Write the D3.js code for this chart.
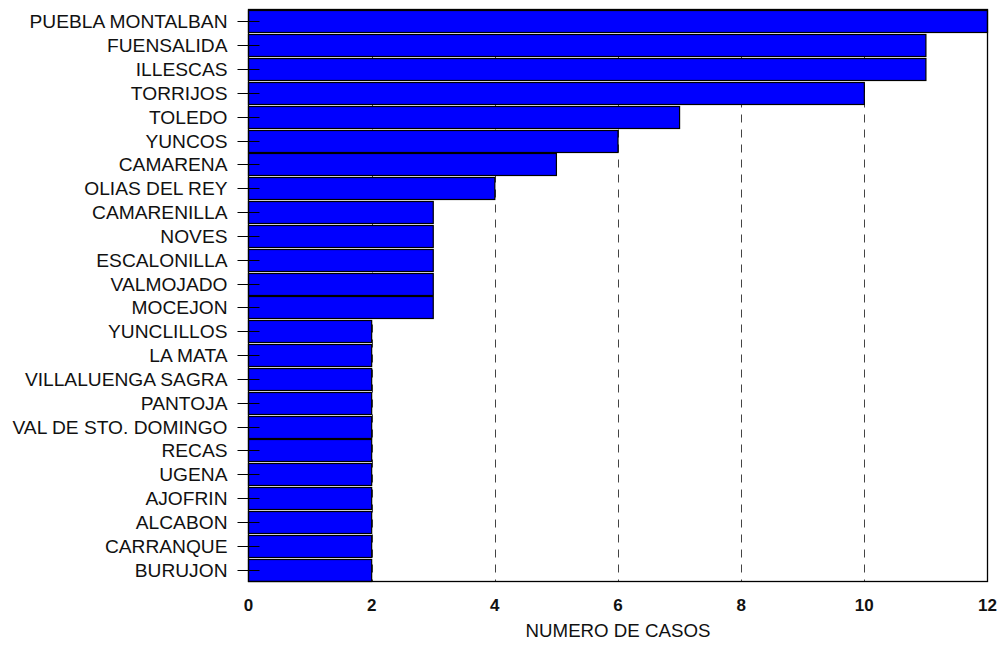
<!DOCTYPE html>
<html>
<head>
<meta charset="utf-8">
<script src="https://cdn.jsdelivr.net/npm/d3@7"></script>
<style>
  body { margin: 0; background: #fff; }
  svg { display: block; font-family: "Liberation Sans", Arial, sans-serif; }
</style>
</head>
<body>
<svg id="chart" width="1004" height="652"></svg>
<script>
// Municipalities and case counts
const categories = [
  "PUEBLA MONTALBAN", "FUENSALIDA", "ILLESCAS", "TORRIJOS", "TOLEDO", "YUNCOS",
  "CAMARENA", "OLIAS DEL REY", "CAMARENILLA", "NOVES", "ESCALONILLA", "VALMOJADO",
  "MOCEJON", "YUNCLILLOS", "LA MATA", "VILLALUENGA SAGRA", "PANTOJA",
  "VAL DE STO. DOMINGO", "RECAS", "UGENA", "AJOFRIN", "ALCABON", "CARRANQUE", "BURUJON"
];
const values = [12, 11, 11, 10, 7, 6, 5, 4, 3, 3, 3, 3, 3, 2, 2, 2, 2, 2, 2, 2, 2, 2, 2, 2];
const xTicks = [0, 2, 4, 6, 8, 10, 12];
const xTitle = "NUMERO DE CASOS";

const svg = d3.select("#chart");
const plotLeft = 248.5, plotRight = 987.5, plotTop = 9.5, plotBottom = 581.5;

const x = d3.scaleLinear().domain([0, 12]).range([plotLeft, plotRight]);
const y = d3.scaleBand().domain(categories).range([plotTop, plotBottom]).paddingInner(0.08).paddingOuter(0.04);

// dashed vertical gridlines
svg.append("g").selectAll("line")
  .data(xTicks.filter(t => t > 0 && t < 12))
  .join("line")
  .attr("x1", d => Math.round(x(d)) + 0.5).attr("x2", d => Math.round(x(d)) + 0.5)
  .attr("y1", plotTop).attr("y2", plotBottom)
  .attr("stroke", "#444").attr("stroke-width", 1)
  .attr("stroke-dasharray", "8,7");

// bars
svg.append("g").selectAll("rect")
  .data(values)
  .join("rect")
  .attr("x", x(0))
  .attr("y", (d, i) => Math.round(y(categories[i])) + 0.5)
  .attr("width", d => x(d) - x(0))
  .attr("height", Math.round(y.bandwidth()))
  .attr("fill", "#0000ff")
  .attr("stroke", "#000").attr("stroke-width", 1.2);

// frame
svg.append("rect")
  .attr("x", plotLeft).attr("y", plotTop)
  .attr("width", plotRight - plotLeft).attr("height", plotBottom - plotTop)
  .attr("fill", "none").attr("stroke", "#000").attr("stroke-width", 1.3);

// y axis ticks and labels
const yg = svg.append("g");
categories.forEach(c => {
  const cy = Math.round(y(c) + y.bandwidth() / 2) + 0.5;
  yg.append("line")
    .attr("x1", plotLeft - 11).attr("x2", plotLeft + 11)
    .attr("y1", cy).attr("y2", cy)
    .attr("stroke", "#000").attr("stroke-width", 1);
  yg.append("text")
    .attr("x", plotLeft - 21).attr("y", cy)
    .attr("dy", "0.36em")
    .attr("text-anchor", "end")
    .attr("font-size", 19.2)
    .attr("fill", "#111")
    .text(c);
});

// x tick labels
svg.append("g").selectAll("text")
  .data(xTicks)
  .join("text")
  .attr("x", d => x(d))
  .attr("y", 611)
  .attr("text-anchor", "middle")
  .attr("font-size", 17)
  .attr("font-weight", "bold")
  .attr("fill", "#111")
  .text(d => d);

// x axis title
svg.append("text")
  .attr("x", (plotLeft + plotRight) / 2).attr("y", 637)
  .attr("text-anchor", "middle")
  .attr("font-size", 18.7)
  .attr("fill", "#111")
  .text(xTitle);
</script>
</body>
</html>
